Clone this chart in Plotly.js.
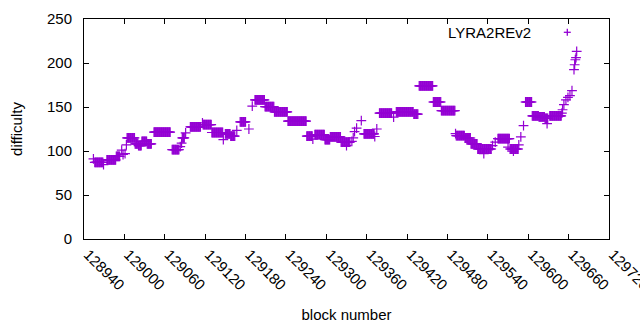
<!DOCTYPE html>
<html>
<head>
<meta charset="utf-8">
<script src="https://cdn.plot.ly/plotly-3.0.1.min.js"></script>
<style>
html,body{margin:0;padding:0;background:#fff;}
#chart{width:640px;height:330px;}
</style>
</head>
<body>
<div id="chart"></div>
<script>
// Runs of consecutive blocks sharing one difficulty value
const runStart = [128954,128956,128969,128974,128988,128996,128998,129001,129003,129004,129016,129021,129026,129034,129044,129071,129083,129085,129086,129091,129098,129116,129117,129130,129147,129150,129158,129167,129172,129185,129190,129194,129209,129223,129243,129271,129280,129283,129298,129306,129322,129330,129338,129340,129342,129345,129352,129356,129372,129375,129379,129400,129404,129430,129438,129459,129471,129492,129493,129506,129515,129525,129534,129547,129551,129555,129570,129573,129578,129586,129589,129593,129596,129606,129616,129625,129628,129632,129650,129651,129653,129656,129659,129662,129665,129668,129669,129670,129671,129672];
const runEnd   = [128954,128968,128969,128987,128993,128996,128998,129001,129003,129015,129020,129025,129033,129040,129068,129081,129083,129085,129089,129091,129113,129116,129129,129146,129147,129157,129164,129167,129180,129185,129190,129208,129222,129242,129270,129279,129280,129297,129305,129321,129335,129330,129338,129340,129342,129345,129352,129371,129372,129375,129397,129400,129429,129436,129458,129470,129491,129492,129505,129514,129524,129545,129534,129547,129551,129572,129570,129585,129578,129586,129589,129593,129605,129615,129624,129629,129628,129649,129650,129651,129653,129656,129659,129662,129665,129668,129669,129670,129671,129672];
const runValue = [91,87,84.5,90,94,101,96,97,107,115,108,106,111,108,121.5,101.5,105,109,115,120.5,127.5,132,130,121,113,119.5,117,123.5,133,125,151,158,150.5,144.5,134,117,113.5,118.5,113,116,110,106,111,115,122,126,134.5,119.5,116.5,125,143,138.5,144.5,142,174,155.7,145.8,119.7,117.4,114.8,108,102.3,97,106,110,114,104.5,102.3,99.8,107,116,128.8,155.7,140,138.8,137,131,140,143,146.9,152.6,158,161,163,168.5,192.4,198,203.7,206,213.2];

const xTicks = [128940,129000,129060,129120,129180,129240,129300,129360,129420,129480,129540,129600,129660,129720];
const yTicks = [0,50,100,150,200,250];

const seriesName = "LYRA2REv2";
const xTitle = "block number";
const yTitle = "difficulty";

const blocks = [], difficulty = [];
for (let i = 0; i < runStart.length; i++) {
  for (let b = runStart[i]; b <= runEnd[i]; b++) {
    blocks.push(b);
    difficulty.push(runValue[i]);
  }
}

const col = "#9400D3";
const fnt = {family: "Liberation Sans, Arial, sans-serif", size: 15, color: "#000"};

const trace = {
  x: blocks, y: difficulty, type: "scatter", mode: "markers", name: seriesName,
  marker: {symbol: "cross-thin-open", size: 7, color: col, line: {color: col, width: 1.2}},
  showlegend: false, hoverinfo: "skip", cliponaxis: false
};

// plot area geometry in px (for key placement)
const L = 84, R = 609, T = 19, B = 239;
const px2x = p => (p - L) / (R - L);
const py2y = p => (B - p) / (B - T);
const kx = 567.3, ky = 32.3;

const layout = {
  width: 640, height: 330,
  margin: {l: L, r: 640 - R, t: T, b: 330 - B},
  paper_bgcolor: "#fff", plot_bgcolor: "#fff",
  font: fnt,
  xaxis: {
    range: [xTicks[0], xTicks[xTicks.length - 1]],
    tickmode: "array", tickvals: xTicks, ticktext: xTicks.map(String),
    tickangle: 45, ticks: "inside", ticklen: 5, tickcolor: "#000",
    ticklabeloverflow: "allow", ticklabelshift: 4,
    showline: true, linecolor: "#000", linewidth: 1, mirror: "ticks",
    showgrid: false, zeroline: false, tickfont: fnt,
    title: {text: xTitle, font: fnt, standoff: 17}
  },
  yaxis: {
    range: [yTicks[0], yTicks[yTicks.length - 1]],
    tickmode: "array", tickvals: yTicks, ticktext: yTicks.map(String),
    ticks: "inside", ticklen: 5, tickcolor: "#000",
    showline: true, linecolor: "#000", linewidth: 1, mirror: "ticks",
    showgrid: false, zeroline: false, tickfont: fnt, ticklabelstandoff: 8,
    title: {text: yTitle, font: fnt, standoff: 20}
  },
  annotations: [{
    xref: "paper", yref: "paper", x: px2x(533), y: py2y(ky), xanchor: "right", yanchor: "middle",
    text: seriesName, showarrow: false, font: fnt
  }],
  shapes: [
    {type: "line", xref: "paper", yref: "paper", x0: px2x(kx - 3.5), x1: px2x(kx + 3.5), y0: py2y(ky), y1: py2y(ky), line: {color: col, width: 1.3}},
    {type: "line", xref: "paper", yref: "paper", x0: px2x(kx), x1: px2x(kx), y0: py2y(ky - 3.5), y1: py2y(ky + 3.5), line: {color: col, width: 1.3}}
  ]
};

Plotly.newPlot("chart", [trace], layout, {staticPlot: true, displayModeBar: false});
</script>
</body>
</html>
